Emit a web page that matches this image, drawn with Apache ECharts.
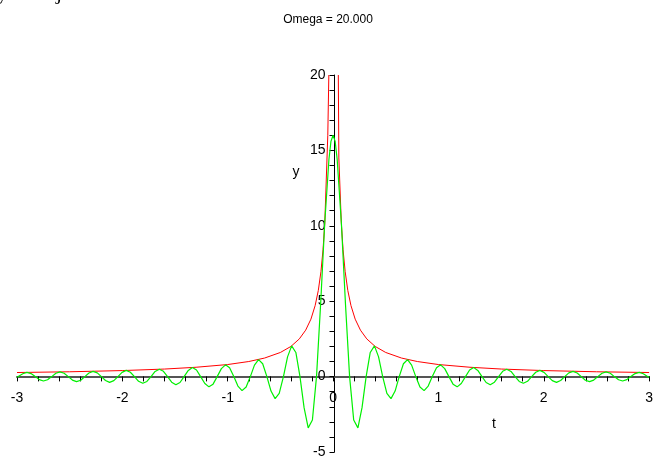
<!DOCTYPE html>
<html>
<head>
<meta charset="utf-8">
<script src="https://cdn.jsdelivr.net/npm/echarts@6/dist/echarts.min.js"></script>
<style>html,body{margin:0;padding:0;background:#fff}#c{width:656px;height:459px}</style>
</head>
<body>
<div id="c"></div>
<script>
const titleText = 'Omega = 20.000';
const xTicks = [-3, -2, -1, 0, 1, 2, 3];
const yTicks = [-5, 0, 5, 10, 15, 20];

const greenT = [
 -3.000, -2.985, -2.945, -2.906, -2.867, -2.827, -2.788, -2.749, -2.710, -2.670,
 -2.631, -2.592, -2.553, -2.513, -2.474, -2.435, -2.395, -2.356, -2.317, -2.278,
 -2.238, -2.199, -2.160, -2.121, -2.081, -2.042, -2.003, -1.963, -1.924, -1.885,
 -1.846, -1.806, -1.767, -1.728, -1.689, -1.649, -1.610, -1.571, -1.532, -1.492,
 -1.453, -1.414, -1.374, -1.335, -1.296, -1.257, -1.217, -1.178, -1.139, -1.100,
 -1.060, -1.021, -0.982, -0.942, -0.903, -0.864, -0.825, -0.785, -0.746, -0.707,
 -0.668, -0.628, -0.589, -0.550, -0.511, -0.471, -0.432, -0.393, -0.353, -0.314,
 -0.275, -0.236, -0.196, -0.157, -0.118, -0.079, -0.039, -0.020, 0.000,
 0.020, 0.039, 0.079, 0.118, 0.157, 0.196, 0.236, 0.275, 0.314, 0.353,
 0.393, 0.432, 0.471, 0.511, 0.550, 0.589, 0.628, 0.668, 0.707, 0.746,
 0.785, 0.825, 0.864, 0.903, 0.942, 0.982, 1.021, 1.060, 1.100, 1.139,
 1.178, 1.217, 1.257, 1.296, 1.335, 1.374, 1.414, 1.453, 1.492, 1.532,
 1.571, 1.610, 1.649, 1.689, 1.728, 1.767, 1.806, 1.846, 1.885, 1.924,
 1.963, 2.003, 2.042, 2.081, 2.121, 2.160, 2.199, 2.238, 2.278, 2.317,
 2.356, 2.395, 2.435, 2.474, 2.513, 2.553, 2.592, 2.631, 2.670, 2.710,
 2.749, 2.788, 2.827, 2.867, 2.906, 2.945, 2.985, 3.000
];
const greenY = [
 -0.05, 0.00, 0.19, 0.28, 0.20, 0.00, -0.20, -0.29, -0.21, 0.00,
 0.22, 0.31, 0.22, 0.00, -0.23, -0.33, -0.24, 0.00, 0.24, 0.35,
 0.25, 0.00, -0.26, -0.38, -0.27, 0.00, 0.28, 0.41, 0.29, 0.00,
 -0.31, -0.44, -0.32, 0.00, 0.34, 0.49, 0.35, 0.00, -0.37, -0.54,
 -0.39, 0.00, 0.41, 0.60, 0.44, 0.00, -0.46, -0.68, -0.50, 0.00,
 0.53, 0.78, 0.58, 0.00, -0.63, -0.93, -0.69, 0.00, 0.76, 1.13,
 0.85, 0.00, -0.96, -1.46, -1.11, 0.00, 1.31, 2.04, 1.60, 0.00,
 -2.06, -3.40, -2.88, 0.00, 4.80, 10.19, 14.41, 15.60, 16.00,
 15.60, 14.41, 10.19, 4.80, 0.00, -2.88, -3.40, -2.06, 0.00, 1.60,
 2.04, 1.31, 0.00, -1.11, -1.46, -0.96, 0.00, 0.85, 1.13, 0.76,
 0.00, -0.69, -0.93, -0.63, 0.00, 0.58, 0.78, 0.53, 0.00, -0.50,
 -0.68, -0.46, 0.00, 0.44, 0.60, 0.41, 0.00, -0.39, -0.54, -0.37,
 0.00, 0.35, 0.49, 0.34, 0.00, -0.32, -0.44, -0.31, 0.00, 0.29,
 0.41, 0.28, 0.00, -0.27, -0.38, -0.26, 0.00, 0.25, 0.35, 0.24,
 0.00, -0.24, -0.33, -0.23, 0.00, 0.22, 0.31, 0.22, 0.00, -0.21,
 -0.29, -0.20, 0.00, 0.20, 0.28, 0.19, 0.00, -0.05
];

const redT = [
 -3.0, -2.5, -2.0, -1.6, -1.3, -1.0, -0.8, -0.65, -0.5, -0.4, -0.32, -0.26,
 -0.21, -0.17, -0.14, -0.115, -0.095, -0.0785, -0.05, -0.04,
 0.0,
 0.05, 0.055, 0.0785, 0.095, 0.115, 0.14, 0.17, 0.21, 0.26, 0.32, 0.4, 0.5,
 0.65, 0.8, 1.0, 1.3, 1.6, 2.0, 2.5, 3.0
];
const redY = [
 0.27, 0.32, 0.40, 0.50, 0.62, 0.80, 1.00, 1.23, 1.60, 2.00, 2.50, 3.08,
 3.81, 4.71, 5.71, 6.96, 8.42, 10.19, 16.0, 20.0,
 '-',
 20.0, 14.5, 10.19, 8.42, 6.96, 5.71, 4.71, 3.81, 3.08, 2.50, 2.00, 1.60,
 1.23, 1.00, 0.80, 0.62, 0.50, 0.40, 0.32, 0.27
];

const W = 656, H = 459;
const G = {left: 17, right: 4, top: 75, bottom: 6};
const gw = W - G.left - G.right, gh = H - G.top - G.bottom;
const xMin = xTicks[0], xMax = xTicks[xTicks.length - 1];
const yMin = yTicks[0], yMax = yTicks[yTicks.length - 1];
// move axes onto the zero lines through the library's own offset
const xOffset = -((0 - yMin) / (yMax - yMin)) * gh;
const yOffset = -((0 - xMin) / (xMax - xMin)) * gw;

const chart = echarts.init(document.getElementById('c'), null, {renderer: 'canvas'});
const font = 'Liberation Sans, Arial, sans-serif';
chart.setOption({
  animation: false,
  backgroundColor: '#fff',
  grid: Object.assign({containLabel: false}, G),
  xAxis: {
    type: 'value', min: xMin, max: xMax, interval: 1, position: 'bottom', offset: xOffset,
    axisLine: {onZero: false, lineStyle: {color: '#555', width: 2}},
    axisTick: {show: true, length: 5, lineStyle: {color: '#000', width: 1}},
    minorTick: {show: true, splitNumber: 5, length: 5, lineStyle: {color: '#000', width: 1}},
    splitLine: {show: false},
    axisLabel: {show: true, margin: 15, color: '#000', fontSize: 14, fontFamily: font,
      showMinLabel: true, showMaxLabel: true, hideOverlap: false,
      formatter: v => xTicks.includes(v) ? String(v) : ''}
  },
  yAxis: {
    type: 'value', min: yMin, max: yMax, interval: 5, position: 'left', offset: yOffset,
    axisLine: {onZero: false, lineStyle: {color: '#000', width: 1}},
    axisTick: {show: true, length: 5, lineStyle: {color: '#000', width: 1}},
    minorTick: {show: true, splitNumber: 5, length: 5, lineStyle: {color: '#000', width: 1}},
    splitLine: {show: false},
    axisLabel: {show: true, margin: 9, color: '#000', fontSize: 14, fontFamily: font,
      showMinLabel: true, showMaxLabel: true, hideOverlap: false,
      formatter: v => yTicks.includes(v) ? String(v) : ''}
  },
  series: [
    {
      type: 'line', name: 'red', data: redT.map((t, i) => [t, redY[i]]),
      showSymbol: false, connectNulls: false, clip: true,
      lineStyle: {color: '#ff0000', width: 1}, z: 2
    },
    {
      type: 'line', name: 'green', data: greenT.map((t, i) => [t, greenY[i]]),
      showSymbol: false, clip: true,
      lineStyle: {color: '#00f000', width: 1.2}, z: 3
    }
  ],
  graphic: [
    {type: 'text', left: 'center', top: 14, style: {text: titleText, font: '12px ' + font, fill: '#000'}},
    {type: 'text', x: 296, y: 172, style: {text: 'y', font: '14px ' + font, fill: '#000', align: 'center', verticalAlign: 'middle'}},
    {type: 'text', x: 494, y: 424, style: {text: 't', font: '14px ' + font, fill: '#000', align: 'center', verticalAlign: 'middle'}},
    {type: 'text', x: -3, y: -7, style: {text: 'y', font: '22px Liberation Serif, serif', fill: '#000', align: 'left', verticalAlign: 'middle'}},
    {type: 'text', x: 56, y: -7, style: {text: 'j', font: '22px Liberation Serif, serif', fill: '#000', align: 'left', verticalAlign: 'middle'}}
  ]
});
</script>
</body>
</html>
